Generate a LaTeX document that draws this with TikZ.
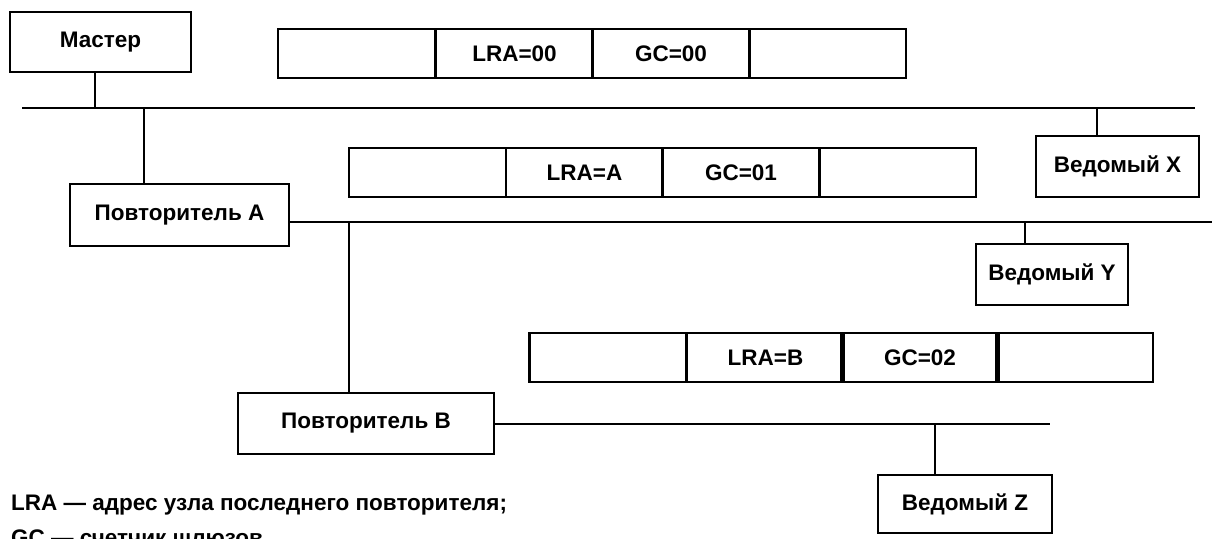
\documentclass[tikz,border=0pt]{standalone}
\usepackage{fontspec}
\setmainfont{Liberation Sans}
\begin{document}
\begin{tikzpicture}[x=1pt,y=-1pt,
  box/.style={draw,line width=2.2pt,inner sep=0pt,font=\fontsize{22.5}{26}\selectfont\bfseries},
  cell/.style={draw,line width=2.2pt,inner sep=0pt,minimum width=157pt,minimum height=49pt,font=\fontsize{22.5}{26}\selectfont\bfseries},
  bus/.style={line width=2.4pt},
  stem/.style={line width=2pt},
  legend/.style={anchor=base west,inner sep=0pt,font=\fontsize{22.5}{26}\selectfont\bfseries}]
\useasboundingbox (0,0) rectangle (1217,538);
% devices
\node[box,minimum width=181pt,minimum height=60pt] (master) at (100.5,42) {Мастер};
\node[box,minimum width=219pt,minimum height=62pt] (repA) at (179.5,215) {Повторитель A};
\node[box,minimum width=256pt,minimum height=61pt] (repB) at (366,423.5) {Повторитель B};
\node[box,minimum width=163pt,minimum height=61pt] (slX) at (1117.5,166.5) {Ведомый X};
\node[box,minimum width=152pt,minimum height=61pt] (slY) at (1052,274.5) {Ведомый Y};
\node[box,minimum width=174pt,minimum height=58pt] (slZ) at (965,504) {Ведомый Z};
% frames
\node[cell] (f1a) at (356.5,53.5) {};
\node[cell] (f1b) at (514.5,53.5) {LRA=00};
\node[cell] (f1c) at (671,53.5) {GC=00};
\node[cell] (f1d) at (827.5,53.5) {};
\node[cell] (f2a) at (427.5,172.5) {};
\node[cell] (f2b) at (584.5,172.5) {LRA=A};
\node[cell] (f2c) at (741,172.5) {GC=01};
\node[cell] (f2d) at (897.5,172.5) {};
\node[cell] (f3a) at (608,357.5) {};
\node[cell] (f3b) at (765.5,357.5) {LRA=B};
\node[cell] (f3c) at (920,357.5) {GC=02};
\node[cell] (f3d) at (1074.5,357.5) {};
% buses
\coordinate (b1s) at (22,108);
\coordinate (b1e) at (1195,108);
\draw[bus] (b1s) -- (b1e);
\coordinate (b2e) at (1212,222);
\draw[bus] (repA.east |- b2e) -- (b2e);
\coordinate (b3e) at (1050,424);
\draw[bus] (repB.east |- b3e) -- (b3e);
% stems
\coordinate (tm) at (95,108);
\draw[stem] (tm) -- (tm |- master.south);
\coordinate (ta) at (144,108);
\draw[stem] (ta) -- (ta |- repA.north);
\coordinate (tx) at (1097,108);
\draw[stem] (tx) -- (tx |- slX.north);
\coordinate (ty) at (1025,222);
\draw[stem] (ty) -- (ty |- slY.north);
\coordinate (tb) at (349,222);
\draw[stem] (tb) -- (tb |- repB.north);
\coordinate (tz) at (935,424);
\draw[stem] (tz) -- (tz |- slZ.north);
% legend
\node[legend] (l1) at (11,510) {LRA — адрес узла последнего повторителя;};
\node[legend] (l2) at (11,545) {GC — счетчик шлюзов};
\end{tikzpicture}
\end{document}
